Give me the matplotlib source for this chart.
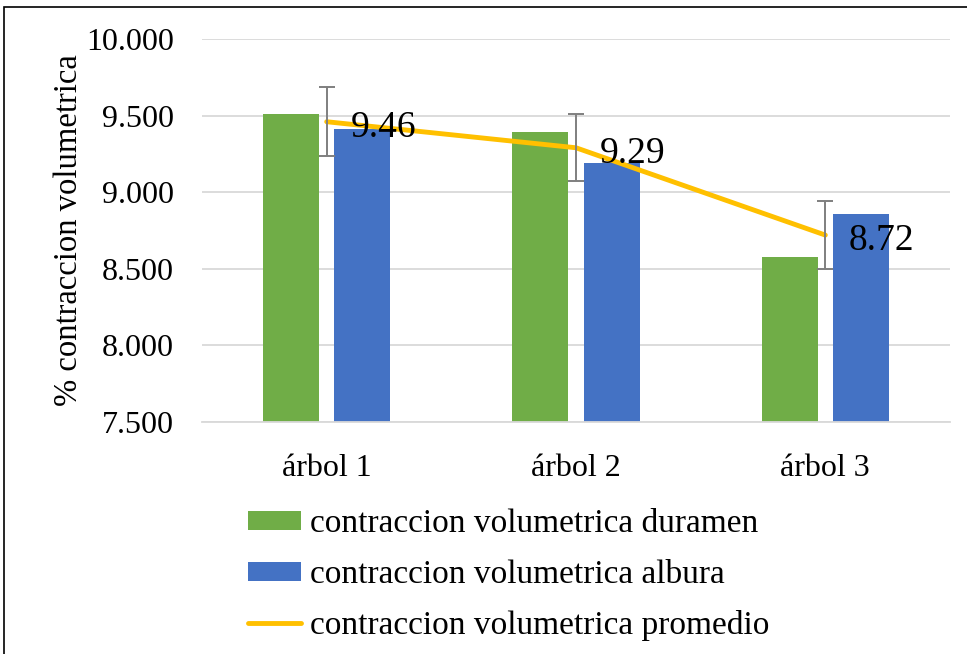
import matplotlib.pyplot as plt
import numpy as np
from matplotlib.patches import Rectangle

categories = ['árbol 1', 'árbol 2', 'árbol 3']
duramen = [9.51, 9.39, 8.58]
albura = [9.41, 9.19, 8.86]
promedio = [9.46, 9.29, 8.72]
err = [0.225, 0.22, 0.22]
yticks = [7.5, 8.0, 8.5, 9.0, 9.5, 10.0]
ytick_labels = ['7.500', '8.000', '8.500', '9.000', '9.500', '10.000']

plt.rcParams['font.family'] = ['Liberation Serif', 'DejaVu Serif']

fig = plt.figure(figsize=(9.67, 6.54), dpi=100)
ax = fig.add_axes([202 / 967, 1 - 422 / 654, 748 / 967, 383 / 654])

x = np.arange(len(categories))
w = 0.225
off = 0.143
b1 = ax.bar(x - off, duramen, w, color='#70AD47', label='contraccion volumetrica duramen', zorder=2)
b2 = ax.bar(x + off, albura, w, color='#4472C4', label='contraccion volumetrica albura', zorder=2)
l1, = ax.plot(x, promedio, color='#FFC000', lw=3.5, label='contraccion volumetrica promedio',
              solid_capstyle='round', zorder=3)
ax.errorbar(x, promedio, yerr=err, fmt='none', ecolor='#7F7F7F', elinewidth=1.4,
            capsize=6, capthick=1.4, zorder=4)
for xi, v in zip(x, promedio):
    ax.annotate(f'{v:.2f}', (xi, v), xytext=(17, -4), textcoords='offset points',
                ha='left', va='center', fontsize=27, zorder=5)

ax.set_xlim(-0.5, 2.5)
ax.set_ylim(7.5, 10.0)
ax.set_yticks(yticks)
ax.set_yticklabels(ytick_labels, fontsize=23)
ax.set_xticks(x)
ax.set_xticklabels(categories, fontsize=23)
ax.tick_params(axis='both', length=0)
ax.tick_params(axis='x', pad=23)
ax.tick_params(axis='y', pad=20)
ax.yaxis.grid(True, color='#D9D9D9', lw=1.3, zorder=0)
ax.set_axisbelow(True)
for s in ['top', 'right', 'left']:
    ax.spines[s].set_visible(False)
ax.spines['bottom'].set_color('#D9D9D9')
ax.spines['bottom'].set_linewidth(1.3)
ax.set_ylabel('% contraccion volumetrica', fontsize=23.5, labelpad=2)

fig.legend(handles=[b1, b2, l1], loc='center left',
           bbox_to_anchor=(248 / 967, 1 - 575 / 654), frameon=False,
           fontsize=24, handlelength=1.6, handleheight=0.5, handletextpad=0.25,
           labelspacing=0.6, borderpad=0, borderaxespad=0)

fig.patches.append(Rectangle((4 / 967, -0.1), 1.2, (647 / 654) + 0.1, transform=fig.transFigure,
                             fill=False, edgecolor='black', lw=1.2))

fig.savefig('out.png', dpi=100)
